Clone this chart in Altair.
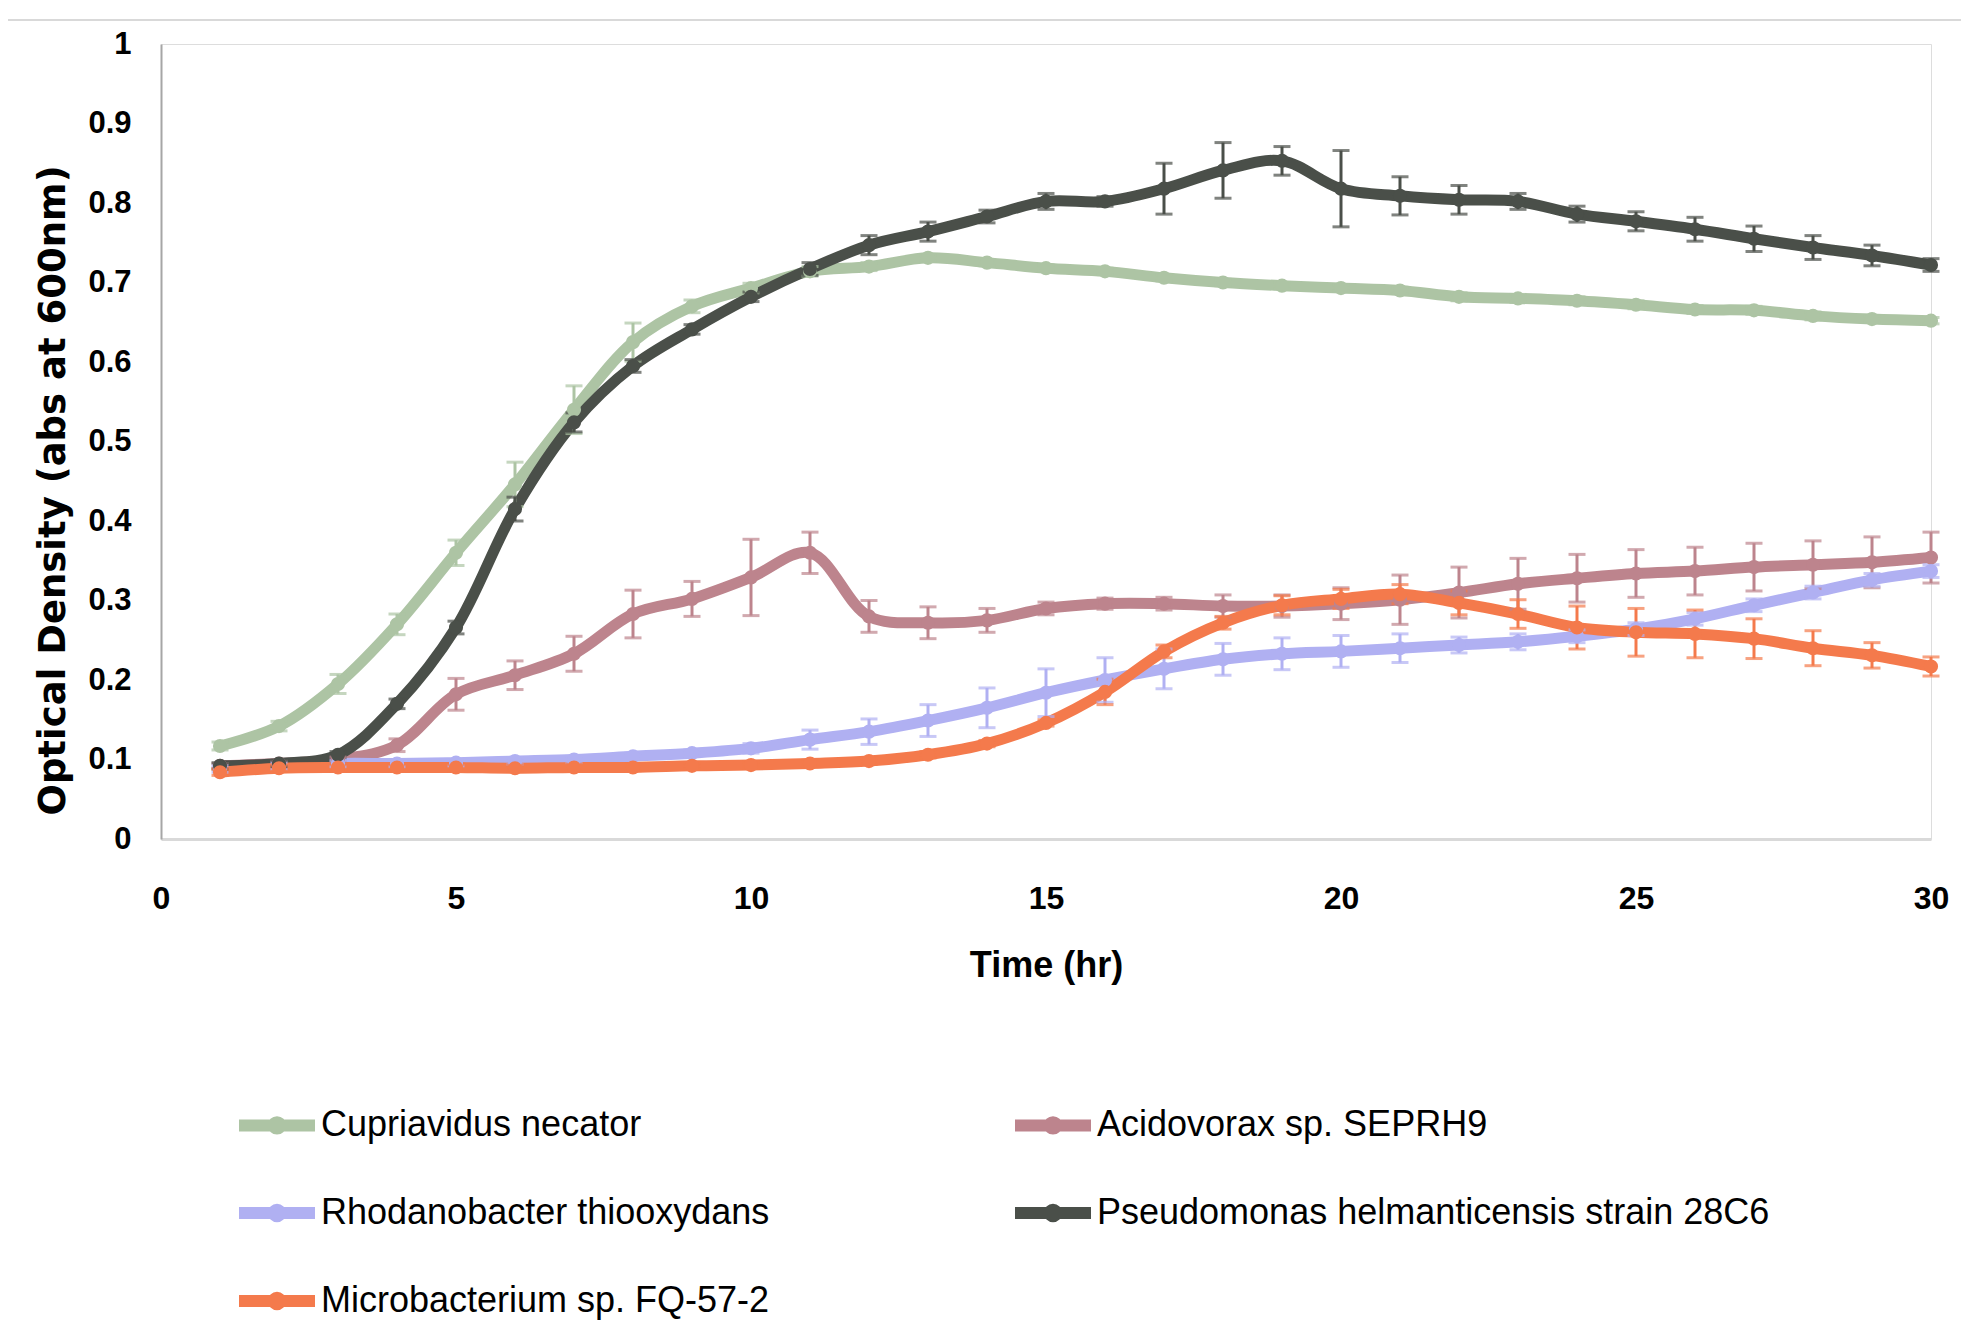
import altair as alt
import pandas as pd

time_hr = list(range(1, 31))

series_names = [
    "Cupriavidus necator",
    "Acidovorax sp. SEPRH9",
    "Rhodanobacter thiooxydans",
    "Pseudomonas helmanticensis strain 28C6",
    "Microbacterium sp. FQ-57-2",
]
series_colors = ["#adc4a4", "#bd848d", "#b0b0f2", "#4a4f49", "#f47a4c"]

# legend is filled column by column
legend_order = [
    "Cupriavidus necator",
    "Rhodanobacter thiooxydans",
    "Microbacterium sp. FQ-57-2",
    "Acidovorax sp. SEPRH9",
    "Pseudomonas helmanticensis strain 28C6",
]

cupriavidus = [0.117, 0.142, 0.195, 0.270, 0.360, 0.446, 0.540, 0.625, 0.670, 0.693,
               0.714, 0.720, 0.731, 0.725, 0.718, 0.714, 0.706, 0.700, 0.696, 0.693,
               0.690, 0.682, 0.680, 0.677, 0.672, 0.666, 0.665, 0.658, 0.654, 0.652]
cupriavidus_err = [0.005, 0.006, 0.012, 0.013, 0.016, 0.028, 0.030, 0.024, 0.008, 0.006,
                   0.006, 0.005, 0.004, 0.004, 0.004, 0.004, 0.004, 0.004, 0.004, 0.004,
                   0.004, 0.005, 0.005, 0.005, 0.005, 0.005, 0.005, 0.005, 0.004, 0.004]

acidovorax = [0.092, 0.095, 0.100, 0.118, 0.182, 0.206, 0.233, 0.283, 0.302, 0.329,
              0.360, 0.280, 0.272, 0.275, 0.290, 0.296, 0.296, 0.293, 0.293, 0.296,
              0.301, 0.310, 0.321, 0.328, 0.334, 0.337, 0.342, 0.345, 0.348, 0.354]
acidovorax_err = [0.003, 0.003, 0.003, 0.008, 0.020, 0.018, 0.022, 0.030, 0.022, 0.048,
                  0.026, 0.020, 0.020, 0.015, 0.008, 0.007, 0.008, 0.014, 0.014, 0.020,
                  0.031, 0.032, 0.032, 0.030, 0.030, 0.030, 0.030, 0.030, 0.032, 0.032]

rhodanobacter = [0.088, 0.092, 0.095, 0.095, 0.096, 0.098, 0.100, 0.104, 0.108, 0.114,
                 0.125, 0.135, 0.149, 0.165, 0.184, 0.200, 0.214, 0.226, 0.233, 0.236,
                 0.240, 0.244, 0.248, 0.255, 0.264, 0.277, 0.294, 0.310, 0.326, 0.337]
rhodanobacter_err = [0.004, 0.004, 0.004, 0.004, 0.004, 0.004, 0.004, 0.004, 0.004, 0.006,
                     0.012, 0.016, 0.020, 0.025, 0.030, 0.028, 0.025, 0.020, 0.020, 0.020,
                     0.018, 0.010, 0.010, 0.008, 0.008, 0.008, 0.008, 0.008, 0.008, 0.008]

pseudomonas = [0.092, 0.095, 0.106, 0.170, 0.266, 0.415, 0.524, 0.595, 0.641, 0.682,
               0.717, 0.747, 0.764, 0.783, 0.802, 0.802, 0.818, 0.841, 0.853, 0.818,
               0.809, 0.804, 0.802, 0.786, 0.777, 0.767, 0.755, 0.744, 0.734, 0.722]
pseudomonas_err = [0.004, 0.004, 0.004, 0.006, 0.008, 0.015, 0.012, 0.008, 0.006, 0.006,
                   0.008, 0.012, 0.012, 0.008, 0.010, 0.006, 0.032, 0.035, 0.018, 0.048,
                   0.024, 0.018, 0.010, 0.010, 0.012, 0.015, 0.016, 0.015, 0.013, 0.008]

microbacterium = [0.084, 0.089, 0.090, 0.090, 0.090, 0.089, 0.090, 0.090, 0.092, 0.093,
                  0.095, 0.098, 0.106, 0.120, 0.146, 0.185, 0.236, 0.272, 0.294, 0.302,
                  0.308, 0.297, 0.283, 0.266, 0.260, 0.258, 0.252, 0.240, 0.231, 0.217]
microbacterium_err = [0.004, 0.004, 0.004, 0.004, 0.004, 0.004, 0.004, 0.004, 0.004, 0.004,
                      0.004, 0.004, 0.004, 0.004, 0.004, 0.016, 0.008, 0.008, 0.012, 0.012,
                      0.012, 0.015, 0.018, 0.027, 0.030, 0.030, 0.025, 0.022, 0.016, 0.012]

y_ticks = [0, 0.1, 0.2, 0.3, 0.4, 0.5, 0.6, 0.7, 0.8, 0.9, 1]
x_ticks = [0, 5, 10, 15, 20, 25, 30]

values = [cupriavidus, acidovorax, rhodanobacter, pseudomonas, microbacterium]
errors = [cupriavidus_err, acidovorax_err, rhodanobacter_err, pseudomonas_err, microbacterium_err]

rows = []
for order, (name, vals, errs) in enumerate(zip(series_names, values, errors)):
    for t, v, e in zip(time_hr, vals, errs):
        rows.append({"series": name, "order": order, "time": t, "od": v,
                     "lo": v - e, "hi": v + e})
df = pd.DataFrame(rows)

W, H = 1770, 795

color_map = dict(zip(series_names, series_colors))
color_scale = alt.Scale(domain=legend_order, range=[color_map[n] for n in legend_order])

legend = alt.Legend(
    title=None,
    orient="none",
    legendX=72,
    legendY=1037,
    columns=2,
    columnPadding=221,
    rowPadding=16,
    symbolType="M -1 0 L 1 0 M 0.085 0 A 0.085 0.085 0 1 1 -0.085 0 A 0.085 0.085 0 1 1 0.085 0",
    symbolSize=5776,
    symbolStrokeWidth=12,
    symbolOffset=0,
    labelOffset=0,
    labelFont="Liberation Sans",
    labelFontSize=36,
    labelColor="#000000",
    labelLimit=900,
    padding=0,
)

x_enc = alt.X(
    "time:Q",
    scale=alt.Scale(domain=[0, 30], nice=False, zero=False),
    axis=alt.Axis(
        values=x_ticks,
        format="d",
        title="Time (hr)",
        grid=False,
        ticks=False,
        domainColor="#d9d9d9",
        domainWidth=3,
        labelFont="Liberation Sans",
        labelFontWeight="bold",
        labelFontSize=32,
        labelColor="#000000",
        labelPadding=44,
        labelFlush=False,
        titleFont="Liberation Sans",
        titleFontWeight="bold",
        titleFontSize=36,
        titleColor="#000000",
        titleBaseline="middle",
        titleY=126,
    ),
)

y_enc = alt.Y(
    "od:Q",
    scale=alt.Scale(domain=[0, 1], nice=False),
    axis=alt.Axis(
        values=y_ticks,
        format="~g",
        title="Optical Density (abs at 600nm)",
        grid=False,
        ticks=False,
        domainColor="#a6a6a6",
        domainWidth=2,
        labelFont="Liberation Sans",
        labelFontWeight="bold",
        labelFontSize=31,
        labelColor="#000000",
        labelPadding=30,
        labelFlush=False,
        titleFont="DejaVu Sans",
        titleFontWeight="bold",
        titleFontSize=37,
        titleColor="#000000",
        titleBaseline="middle",
        titleAlign="center",
        titleX=-108,
        titleY=446,
    ),
)

base = alt.Chart(df)

lines = base.mark_line(strokeWidth=11, interpolate="catmull-rom").encode(
    x=x_enc,
    y=y_enc,
    color=alt.Color("series:N", scale=color_scale, legend=legend),
    order=alt.Order("time:Q"),
    detail="order:O",
)

err_rules = base.mark_rule(strokeWidth=3).encode(
    x="time:Q",
    y="lo:Q",
    y2="hi:Q",
    color=alt.Color("series:N", scale=color_scale, legend=None),
)

err_lo = base.mark_tick(orient="horizontal", size=17, thickness=3).encode(
    x="time:Q",
    y="lo:Q",
    color=alt.Color("series:N", scale=color_scale, legend=None),
)
err_hi = base.mark_tick(orient="horizontal", size=17, thickness=3).encode(
    x="time:Q",
    y="hi:Q",
    color=alt.Color("series:N", scale=color_scale, legend=None),
)

points = base.mark_point(filled=True, size=200, opacity=1).encode(
    x="time:Q",
    y="od:Q",
    color=alt.Color("series:N", scale=color_scale, legend=None),
)

border = alt.Chart(pd.DataFrame({"k": [0]})).mark_rule(color="#d9d9d9", strokeWidth=2).encode(
    x=alt.value(-153), x2=alt.value(W + 30), y=alt.value(-24)
)

chart = (
    alt.layer(border, lines, err_rules, err_lo, err_hi, points)
    .properties(
        width=W,
        height=H,
        autosize=alt.AutoSizeParams(type="none"),
        padding={"left": 153, "top": 36, "right": 30, "bottom": 485},
    )
    .configure_view(stroke=None)
    .configure(background="#ffffff")
)

chart.save("out.html", embed_options={"renderer": "svg", "actions": False})
